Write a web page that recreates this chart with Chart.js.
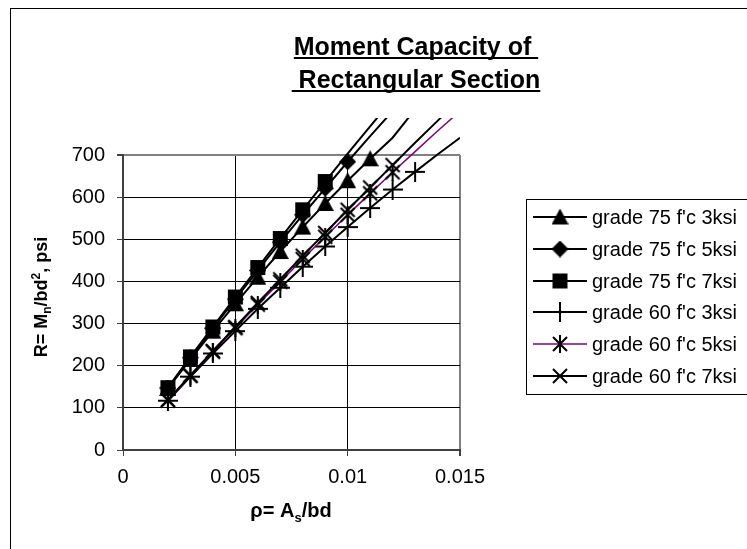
<!DOCTYPE html>
<html>
<head>
<meta charset="utf-8">
<script src="https://cdn.jsdelivr.net/npm/chart.js@4.4.0/dist/chart.umd.min.js"></script>
<style>
  html, body { margin: 0; padding: 0; background: #fff; }
  #wrap { width: 747px; height: 549px; }
</style>
</head>
<body>
<div id="wrap"><canvas id="chart" width="747" height="549"></canvas></div>
<script>
// steel ratio rho = As/bd, one entry per data row
const rho = [0.002, 0.003, 0.004, 0.005, 0.006, 0.007, 0.008, 0.009, 0.010, 0.011, 0.012, 0.013, 0.014, 0.015, 0.016];

// R = Mn/bd^2 (psi)
const g75_3ksi = [146, 215, 282, 347, 410, 471, 529, 585, 639, 691, 741, 808];
const g75_5ksi = [147, 219, 289, 358, 426, 493, 558, 621, 684, 745, 804];
const g75_7ksi = [148, 221, 292, 363, 433, 502, 570, 637, 703, 768, 832];
const g60_3ksi = [117, 174, 229, 282, 335, 385, 435, 483, 529, 574, 618, 660, 701, 741, 779];
const g60_5ksi = [118, 176, 233, 289, 345, 399, 453, 506, 558, 609, 659, 708, 757, 804];
const g60_7ksi = [119, 177, 235, 292, 349, 405, 461, 515, 570, 623, 676, 729, 781, 832];

const seriesLabels = ["grade 75 f'c 3ksi", "grade 75 f'c 5ksi", "grade 75 f'c 7ksi",
                      "grade 60 f'c 3ksi", "grade 60 f'c 5ksi", "grade 60 f'c 7ksi"];
const xTickLabels = ['0', '0.005', '0.01', '0.015'];
const yTickLabels = ['0', '100', '200', '300', '400', '500', '600', '700'];

const FONT = '"Liberation Sans", Arial, sans-serif';

// excel style markers drawn on small canvases
function marker(kind, size) {
    const c = document.createElement('canvas');
    c.width = size;
    c.height = size;
    const g = c.getContext('2d');
    const m = size / 2;
    g.fillStyle = '#000';
    g.strokeStyle = '#000';
    g.lineWidth = 2;
    g.beginPath();
    if (kind === 'square') {
        g.rect(1, 1, size - 2, size - 2);
        g.fill();
    } else if (kind === 'diamond') {
        g.moveTo(m, 0); g.lineTo(size, m); g.lineTo(m, size); g.lineTo(0, m);
        g.closePath();
        g.fill();
    } else if (kind === 'triangle') {
        g.moveTo(m, 0); g.lineTo(size, size - 1); g.lineTo(0, size - 1);
        g.closePath();
        g.fill();
    } else {
        if (kind === 'plus' || kind === 'star') { g.moveTo(m, 0); g.lineTo(m, size); }
        if (kind === 'plus') { g.moveTo(0, m); g.lineTo(size, m); }
        if (kind === 'x' || kind === 'star') {
            g.moveTo(2, 2); g.lineTo(size - 2, size - 2);
            g.moveTo(size - 2, 2); g.lineTo(2, size - 2);
        }
        g.stroke();
    }
    return c;
}

const series = [
    { values: g75_3ksi, style: marker('triangle', 17), color: '#000', width: 2 },
    { values: g75_5ksi, style: marker('diamond', 17), color: '#000', width: 2 },
    { values: g75_7ksi, style: marker('square', 17), color: '#000', width: 2 },
    { values: g60_3ksi, style: marker('plus', 20), color: '#000', width: 2 },
    { values: g60_5ksi, style: marker('star', 18), color: '#800080', width: 1.5 },
    { values: g60_7ksi, style: marker('x', 18), color: '#000', width: 2 }
];

// rich text with sub/superscripts for the axis titles
function drawRich(ctx, parts, cx, cy, size, rotate) {
    ctx.save();
    ctx.translate(cx, cy);
    if (rotate) ctx.rotate(-Math.PI / 2);
    const big = 'bold ' + size + 'px ' + FONT;
    const small = 'bold ' + Math.round(size * 0.65) + 'px ' + FONT;
    let total = 0;
    parts.forEach(p => {
        ctx.font = (p.sub || p.sup) ? small : big;
        p.w = ctx.measureText(p.t).width;
        total += p.w;
    });
    let x = -total / 2;
    ctx.fillStyle = '#000';
    ctx.textBaseline = 'alphabetic';
    parts.forEach(p => {
        ctx.font = (p.sub || p.sup) ? small : big;
        const dy = p.sub ? size * 0.22 : (p.sup ? -size * 0.4 : 0);
        ctx.fillText(p.t, x, size * 0.36 + dy);
        x += p.w;
    });
    ctx.restore();
}

const decorations = {
    id: 'decorations',
    beforeDraw(chart) {
        const ctx = chart.ctx;
        ctx.save();
        ctx.fillStyle = '#fff';
        ctx.fillRect(0, 0, chart.width, chart.height);
        ctx.strokeStyle = '#000';
        ctx.lineWidth = 1;
        ctx.strokeRect(10.5, 8.5, 800, 600);
        ctx.restore();
    },
    afterDraw(chart) {
        const ctx = chart.ctx;
        ctx.save();

        // title, underlined
        ctx.font = 'bold 25px ' + FONT;
        ctx.fillStyle = '#000';
        ctx.textAlign = 'left';
        ctx.textBaseline = 'alphabetic';
        [['Moment Capacity of ', 55], [' Rectangular Section', 88]].forEach(([t, y]) => {
            const w = ctx.measureText(t).width;
            const x0 = 416 - w / 2;
            ctx.fillText(t, x0, y);
            ctx.fillRect(x0, y + 2, w, 2);
        });

        // axis titles
        drawRich(ctx, [{ t: 'ρ= A' }, { t: 's', sub: true }, { t: '/bd' }], 291, 510, 20, false);
        drawRich(ctx, [{ t: 'R= M' }, { t: 'n', sub: true }, { t: '/bd' }, { t: '2', sup: true }, { t: ', psi' }],
                 41, 297, 18, true);

        // legend box
        const top = 199, rowTop = 217, gap = 31.8;
        ctx.strokeStyle = '#000';
        ctx.lineWidth = 1;
        ctx.strokeRect(526.5, top + 0.5, 400, 195);
        ctx.font = '20px ' + FONT;
        ctx.textBaseline = 'middle';
        chart.data.datasets.forEach((ds, i) => {
            const y = Math.round(rowTop + i * gap);
            ctx.strokeStyle = ds.borderColor;
            ctx.lineWidth = ds.borderWidth;
            ctx.beginPath();
            ctx.moveTo(533, y);
            ctx.lineTo(587, y);
            ctx.stroke();
            const img = ds.pointStyle;
            ctx.drawImage(img, 560 - img.width / 2, y - img.height / 2);
            ctx.fillStyle = '#000';
            ctx.fillText(ds.label, 592, y + 1);
        });
        ctx.restore();
    }
};

new Chart(document.getElementById('chart'), {
    type: 'line',
    data: {
        datasets: series.map((s, i) => ({
            label: seriesLabels[i],
            data: s.values.map((v, k) => ({ x: rho[k], y: v })),
            borderColor: s.color,
            borderWidth: s.width,
            pointStyle: s.style,
            pointRadius: ctx => (ctx.raw && ctx.raw.y > 700 ? 0 : 8),
            pointHoverRadius: 0,
            tension: 0,
            fill: false,
            clip: { left: 0, top: 37, right: 0, bottom: 0 },
            order: series.length - i
        }))
    },
    options: {
        responsive: false,
        animation: false,
        devicePixelRatio: 1,
        layout: { padding: { left: 0, top: 155, right: 287, bottom: 0 } },
        plugins: {
            legend: { display: false },
            title: { display: false },
            tooltip: { enabled: false }
        },
        events: [],
        scales: {
            x: {
                type: 'linear',
                min: 0,
                max: 0.015,
                afterFit: axis => { axis.height = 99; },
                ticks: {
                    stepSize: 0.005,
                    padding: 9,
                    color: '#000',
                    font: { family: FONT, size: 20 },
                    maxRotation: 0,
                    callback: (v, i) => xTickLabels[i]
                },
                grid: {
                    color: c => (c.tick && c.tick.value === 0.015 ? '#808080' : '#000'),
                    lineWidth: c => (c.tick && c.tick.value === 0.015 ? 2 : 1),
                    tickLength: 6,
                    tickColor: '#404040'
                },
                border: { display: true, color: '#404040', width: 2 }
            },
            y: {
                type: 'linear',
                min: 0,
                max: 700,
                afterFit: axis => { axis.width = 123; },
                ticks: {
                    stepSize: 100,
                    padding: 12,
                    color: '#000',
                    font: { family: FONT, size: 20 },
                    callback: (v, i) => yTickLabels[i]
                },
                grid: {
                    color: c => (c.tick && c.tick.value === 700 ? '#808080' : '#000'),
                    lineWidth: c => (c.tick && c.tick.value === 700 ? 2 : 1),
                    tickLength: 6,
                    tickColor: '#404040'
                },
                border: { display: true, color: '#404040', width: 2 }
            }
        }
    },
    plugins: [decorations]
});
</script>
</body>
</html>
